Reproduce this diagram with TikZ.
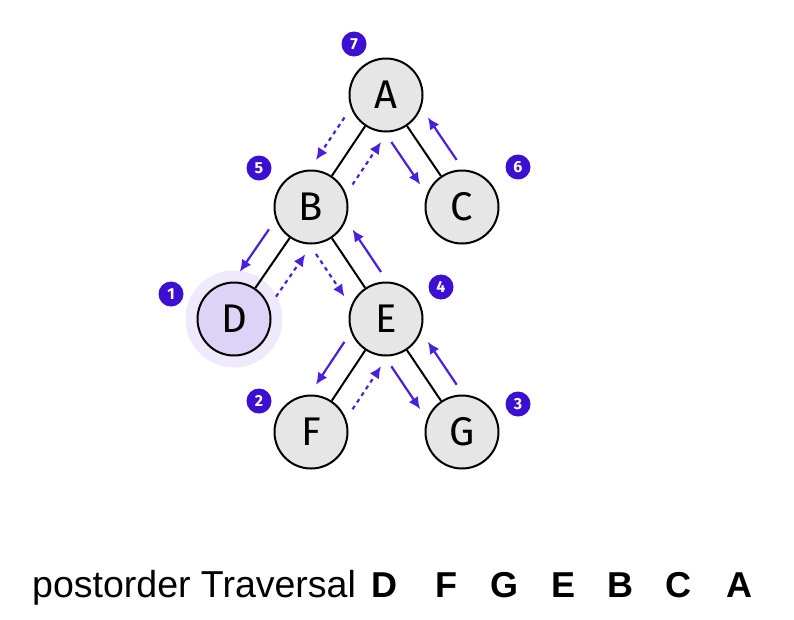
\documentclass[tikz,border=0pt]{standalone}
\usepackage{fontspec}
\setmainfont{Liberation Sans}
\newfontfamily\nodefont{Fira Sans}
\usetikzlibrary{arrows.meta,calc}
\definecolor{nodefill}{HTML}{E6E6E6}
\definecolor{dfill}{HTML}{DCD3F6}
\definecolor{halocol}{HTML}{EEEAFC}
\definecolor{arr}{HTML}{4A1FE0}
\definecolor{badgecol}{HTML}{3D0FD2}
\begin{document}
\begin{tikzpicture}[x=1pt,y=-1pt,
  tnode/.style={circle,draw=black,line width=2pt,fill=nodefill,minimum size=73pt,inner sep=0pt,
    font=\nodefont\fontsize{40}{40}\selectfont},
  tedge/.style={draw=black,line width=2pt},
  flow/.style={draw=arr,line width=2.2pt,-{Latex[length=12pt,width=11pt]}},
  dotflow/.style={flow,dash pattern=on 4pt off 4pt},
  badge/.style={circle,fill=badgecol,minimum size=25pt,inner sep=0pt,text=white,
    font=\nodefont\bfseries\fontsize{16}{16}\selectfont},
  seq/.style={anchor=base,font=\bfseries\fontsize{36}{36}\selectfont}]
\useasboundingbox (0,0) rectangle (794,619);
% halo behind D
\node[circle,fill=halocol,minimum size=97pt,inner sep=0pt] (halo) at (234,319) {};
% tree nodes
\node[tnode] (A) at (386,95) {A};
\node[tnode] (B) at (311,207) {B};
\node[tnode] (C) at (462,207) {C};
\node[tnode,fill=dfill] (D) at (234,319) {D};
\node[tnode] (E) at (386,319) {E};
\node[tnode] (F) at (311,432) {F};
\node[tnode] (G) at (462,432) {G};
% edges
\draw[tedge] (A) -- (B);
\draw[tedge] (A) -- (C);
\draw[tedge] (B) -- (D);
\draw[tedge] (B) -- (E);
\draw[tedge] (E) -- (F);
\draw[tedge] (E) -- (G);
% traversal arrows (left side: going down, right side: going up)
% A-B
\draw[dotflow] ($(A)!0.31!(B)!22pt!-90:(B)$) -- ($(A)!0.69!(B)!22pt!-90:(B)$);
\draw[dotflow] ($(A)!0.69!(B)!22pt!90:(B)$) -- ($(A)!0.31!(B)!22pt!90:(B)$);
% A-C
\draw[flow] ($(A)!0.31!(C)!22pt!-90:(C)$) -- ($(A)!0.69!(C)!22pt!-90:(C)$);
\draw[flow] ($(A)!0.69!(C)!22pt!90:(C)$) -- ($(A)!0.31!(C)!22pt!90:(C)$);
% B-D
\draw[flow] ($(B)!0.31!(D)!22pt!-90:(D)$) -- ($(B)!0.69!(D)!22pt!-90:(D)$);
\draw[dotflow] ($(B)!0.69!(D)!22pt!90:(D)$) -- ($(B)!0.31!(D)!22pt!90:(D)$);
% B-E
\draw[dotflow] ($(B)!0.31!(E)!22pt!-90:(E)$) -- ($(B)!0.69!(E)!22pt!-90:(E)$);
\draw[flow] ($(B)!0.69!(E)!22pt!90:(E)$) -- ($(B)!0.31!(E)!22pt!90:(E)$);
% E-F
\draw[flow] ($(E)!0.31!(F)!22pt!-90:(F)$) -- ($(E)!0.69!(F)!22pt!-90:(F)$);
\draw[dotflow] ($(E)!0.69!(F)!22pt!90:(F)$) -- ($(E)!0.31!(F)!22pt!90:(F)$);
% E-G
\draw[flow] ($(E)!0.31!(G)!22pt!-90:(G)$) -- ($(E)!0.69!(G)!22pt!-90:(G)$);
\draw[flow] ($(E)!0.69!(G)!22pt!90:(G)$) -- ($(E)!0.31!(G)!22pt!90:(G)$);
% order badges
\node[badge] (b7) at (354,44) {7};
\node[badge] (b5) at (259,168) {5};
\node[badge] (b6) at (518,167) {6};
\node[badge] (b1) at (171,294) {1};
\node[badge] (b4) at (441,287) {4};
\node[badge] (b2) at (259,401) {2};
\node[badge] (b3) at (518,404) {3};
% caption
\node[anchor=base west,inner sep=0pt,font=\fontsize{37.5}{37.5}\selectfont] (cap) at (32,597) {postorder Traversal};
\node[seq] (sD) at (384.5,597) {D};
\node[seq] (sF) at (446,597) {F};
\node[seq] (sG) at (504.5,597) {G};
\node[seq] (sE) at (563.5,597) {E};
\node[seq] (sB) at (620,597) {B};
\node[seq] (sC) at (678.5,597) {C};
\node[seq] (sA) at (739.5,597) {A};
\end{tikzpicture}
\end{document}
